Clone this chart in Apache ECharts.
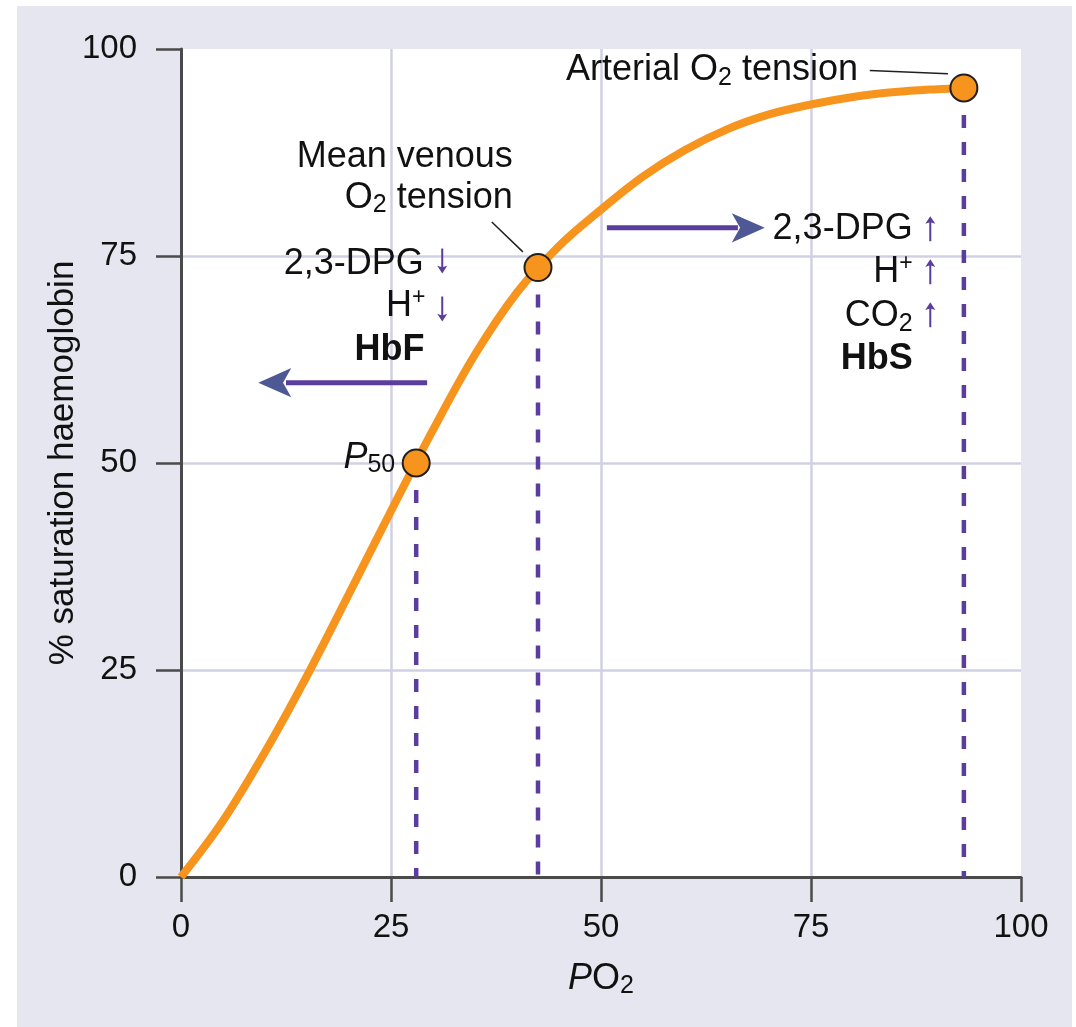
<!DOCTYPE html>
<html>
<head>
<meta charset="utf-8">
<script src="https://cdn.jsdelivr.net/npm/echarts@6/dist/echarts.min.js"></script>
<style>
  html, body { margin: 0; padding: 0; background: #ffffff; }
  #chart { position: absolute; left: 17px; top: 6px; width: 1055px; height: 1021px; }
</style>
</head>
<body>
<div id="chart"></div>
<script>
// ---- Data ----
const po2 = [0, 5, 10, 15, 20, 25, 30, 35, 40, 45, 50, 55, 60, 65, 70, 75, 80, 85, 90, 93.2];
const saturation = [0, 6.8, 15.1, 24.3, 34.2, 44.2, 54, 63.1, 70.6, 76.2, 80.6, 84.6, 87.8, 90.3, 92.1, 93.3, 94.2, 94.8, 95.15, 95.3];

// key points: P50, mean venous, arterial
const keyX = [28, 42.5, 93.2];
const keyY = [50, 73.6, 95.3];

const xTicks = [0, 25, 50, 75, 100];
const yTicks = [0, 25, 50, 75, 100];

// shift arrows (shaft start x, shaft end x, head tip x, y)
const arrowStartX = [29.3, 50.7];
const arrowEndX = [12.5, 66.3];
const arrowTipX = [9.2, 69.5];
const arrowY = [59.7, 78.4];
const arrowDir = ['left', 'right'];

// annotation texts (rich text markup), anchor = right edge / vertical centre
const noteText = [
  'Arterial O{sub|2} tension',
  'Mean venous',
  'O{sub|2} tension',
  '2,3-DPG',
  'H{sup|+}',
  '{bd|HbF}',
  '{it|P}{sub|50}',
  '2,3-DPG',
  'H{sup|+}',
  'CO{sub|2}',
  '{bd|HbS}'
];
const noteX = [80.6, 39.5, 39.5, 28.9, 29.1, 29.0, 25.5, 87.1, 87.1, 87.1, 87.1];
const noteY = [97.4, 87.0, 82.0, 74.0, 69.0, 63.6, 50.6, 78.2, 73.0, 67.7, 62.6];

// small up/down indicator arrows
const indX = [31.1, 31.1, 89.2, 89.2, 89.2];
const indY = [74.4, 68.6, 78.3, 73.1, 67.9];
const indDir = ['down', 'down', 'up', 'up', 'up'];

// leader lines
const leaderA = [[82.0, 97.4], [37.0, 79.1]];
const leaderB = [[91.3, 97.0], [40.7, 75.5]];

// ---- Styles ----
const FONT = 'Liberation Sans, Arial, Helvetica, sans-serif';
const TXT = '#111111';
const ORANGE = '#f7941d';
const PURPLE = '#5b3d9e';
const HEAD = '#4e5894';
const GRID = '#d0d0e4';
const AXIS = '#4a4a4a';
const NOTE_SIZE = 36;

const rich = {
  sub: { fontSize: 25, lineHeight: 24, verticalAlign: 'bottom', fontFamily: FONT, color: TXT },
  sup: { fontSize: 23, lineHeight: 28, verticalAlign: 'top', fontFamily: FONT, color: TXT },
  it: { fontStyle: 'italic', fontSize: NOTE_SIZE, lineHeight: 40, fontFamily: FONT, color: TXT },
  bd: { fontWeight: 'bold', fontSize: NOTE_SIZE, lineHeight: 40, fontFamily: FONT, color: TXT }
};

const series = [];

// curve
series.push({
  type: 'line',
  data: po2.map((x, i) => [x, saturation[i]]),
  smooth: 0.35,
  showSymbol: false,
  symbol: 'none',
  lineStyle: { color: ORANGE, width: 8 },
  z: 5,
  clip: false,
  animation: false
});

// dashed drop lines
keyX.forEach((x, i) => {
  series.push({
    type: 'line',
    data: [[x, keyY[i]], [x, 0]],
    symbol: 'none',
    lineStyle: { color: PURPLE, width: 4.5, type: [13, 14] },
    z: 3,
    animation: false
  });
});

// key points
series.push({
  type: 'scatter',
  data: keyX.map((x, i) => [x, keyY[i]]),
  symbolSize: 27,
  itemStyle: { color: ORANGE, borderColor: '#231f20', borderWidth: 2, opacity: 1 },
  z: 8,
  animation: false
});

// arrow shafts
arrowStartX.forEach((x, i) => {
  series.push({
    type: 'line',
    data: [[x, arrowY[i]], [arrowEndX[i], arrowY[i]]],
    symbol: 'none',
    lineStyle: { color: PURPLE, width: 5 },
    z: 6,
    animation: false
  });
});
// arrow heads
series.push({
  type: 'scatter',
  data: arrowTipX.map((x, i) => ({
    value: [x, arrowY[i]],
    symbolRotate: arrowDir[i] === 'left' ? 90 : -90
  })),
  symbol: 'arrow',
  symbolSize: [22, 33],
  itemStyle: { color: HEAD, opacity: 1 },
  z: 7,
  animation: false
});

// small indicator arrows
series.push({
  type: 'scatter',
  data: indX.map((x, i) => ({
    value: [x, indY[i]],
    symbolRotate: indDir[i] === 'down' ? 180 : 0
  })),
  symbol: 'path://M5,0 L10,8 L6,6.6 L6,26 L4,26 L4,6.6 L0,8 Z',
  symbolSize: [10, 25],
  itemStyle: { color: PURPLE, opacity: 1 },
  z: 7,
  animation: false
});

// leader lines
leaderA.forEach((a, i) => {
  series.push({
    type: 'line',
    data: [a, leaderB[i]],
    symbol: 'none',
    lineStyle: { color: '#231f20', width: 1.5 },
    z: 7,
    animation: false
  });
});

// annotation texts
series.push({
  type: 'scatter',
  symbolSize: 0,
  data: noteX.map((x, i) => ({
    value: [x, noteY[i]],
    label: { formatter: noteText[i] }
  })),
  itemStyle: { opacity: 1 },
  label: {
    show: true,
    position: 'left',
    distance: 0,
    align: 'right',
    verticalAlign: 'middle',
    fontSize: NOTE_SIZE,
    lineHeight: 40,
    fontFamily: FONT,
    color: TXT,
    rich: rich
  },
  z: 10,
  animation: false
});

const chart = echarts.init(document.getElementById('chart'), null, { renderer: 'canvas' });
chart.setOption({
  backgroundColor: '#e6e6f0',
  animation: false,
  grid: {
    left: 164, top: 43, right: 51, bottom: 150,
    show: true, backgroundColor: '#ffffff', borderWidth: 0
  },
  xAxis: {
    type: 'value',
    min: xTicks[0], max: xTicks[xTicks.length - 1], interval: 25,
    name: '{it|P}O{sub|2}',
    nameLocation: 'middle',
    nameGap: 82,
    nameMoveOverlap: false,
    nameTextStyle: { fontSize: NOTE_SIZE, lineHeight: 40, fontFamily: FONT, color: TXT, rich: rich },
    axisLine: { show: true, lineStyle: { color: AXIS, width: 3 } },
    axisTick: { show: true, length: 25, lineStyle: { color: AXIS, width: 2.5 } },
    axisLabel: { margin: 34, fontSize: 33, fontFamily: FONT, color: TXT },
    splitLine: { show: true, lineStyle: { color: ['rgba(0,0,0,0)', GRID, GRID, GRID, 'rgba(0,0,0,0)'], width: 2.5 } }
  },
  yAxis: {
    type: 'value',
    min: yTicks[0], max: yTicks[yTicks.length - 1], interval: 25,
    name: '% saturation haemoglobin',
    nameLocation: 'middle',
    nameGap: 100,
    nameMoveOverlap: false,
    nameTextStyle: { fontSize: 35, fontFamily: FONT, color: TXT },
    axisLine: { show: true, lineStyle: { color: AXIS, width: 3 } },
    axisTick: { show: true, length: 25, lineStyle: { color: AXIS, width: 2.5 } },
    axisLabel: { margin: 44, fontSize: 33, fontFamily: FONT, color: TXT },
    splitLine: { show: true, lineStyle: { color: ['rgba(0,0,0,0)', GRID, GRID, GRID, 'rgba(0,0,0,0)'], width: 2.5 } }
  },
  series: series
});
</script>
</body>
</html>
